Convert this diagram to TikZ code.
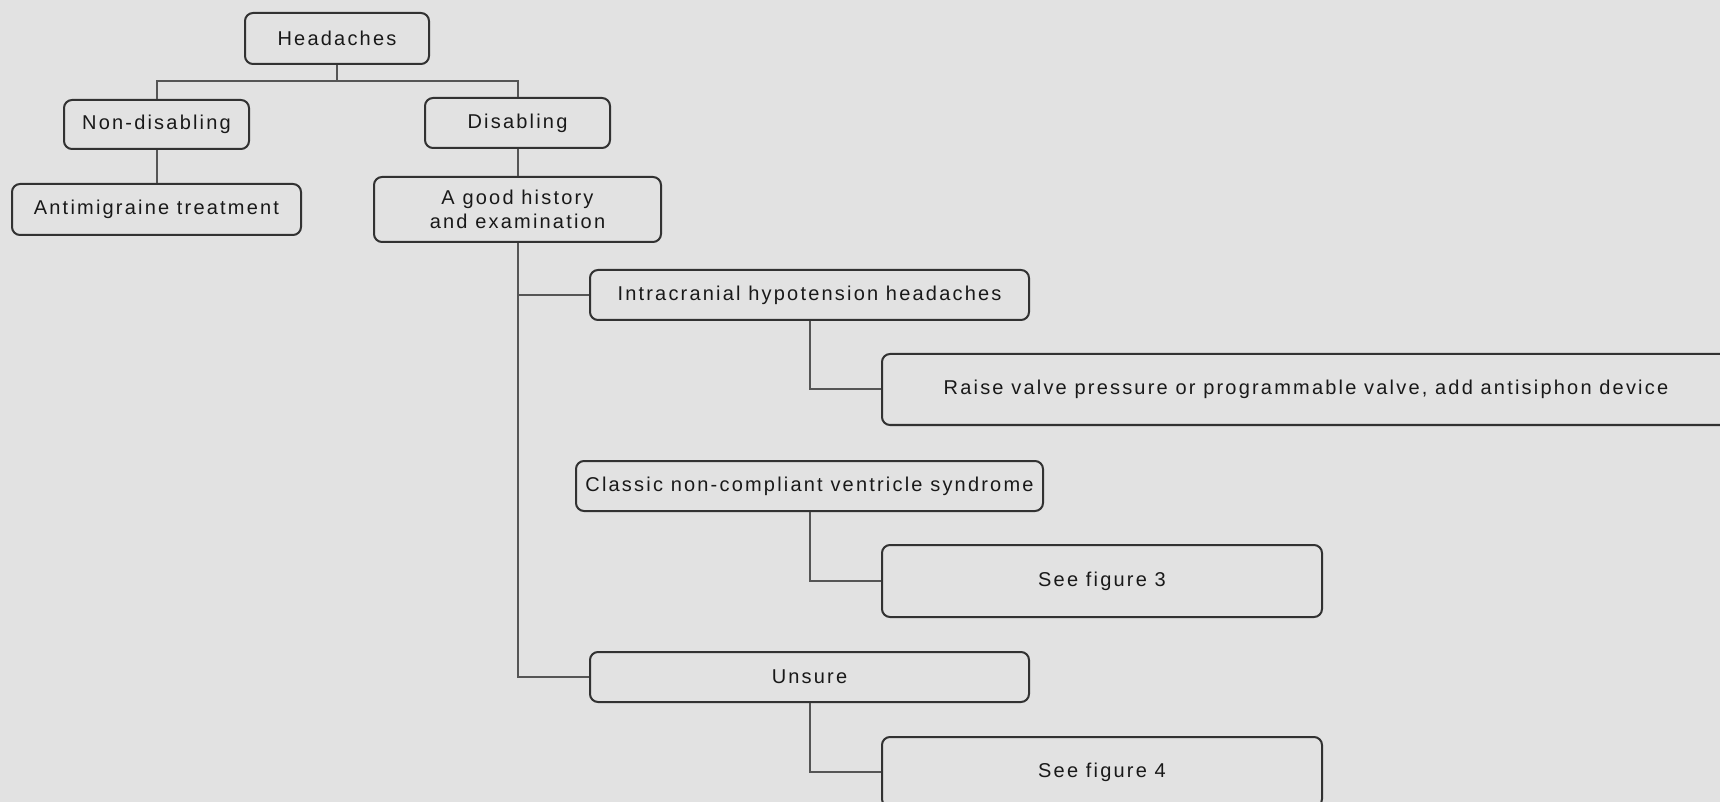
\documentclass[tikz,border=0pt]{standalone}
\usepackage{fontspec}
\setmainfont{Liberation Sans}[LetterSpace=11]
\definecolor{bgc}{RGB}{226,226,226}
\definecolor{boxc}{RGB}{50,50,50}
\definecolor{linec}{RGB}{85,85,85}
\begin{document}
\begin{tikzpicture}[x=0.5pt,y=-0.5pt,
  fbox/.style={draw=boxc,line width=1pt,rounded corners=4pt,fill=bgc,
    align=center,inner sep=0pt,font=\fontsize{10pt}{12pt}\selectfont,text=black!90},
  conn/.style={draw=linec,line width=1pt}]
\fill[bgc] (0,0) rectangle (1720,802);
\clip (0,0) rectangle (1720,802);
\useasboundingbox (0,0) rectangle (1720,802);
\node[fbox,minimum width=92pt,minimum height=25.5pt] (head) at (337,38.5) {Headaches};
\node[fbox,minimum width=92.5pt,minimum height=24.5pt] (nond) at (156.5,124.5) {Non-disabling};
\node[fbox,minimum width=92.5pt,minimum height=25pt] (dis) at (517.5,123) {Disabling};
\node[fbox,minimum width=144.5pt,minimum height=25.5pt] (anti) at (156.5,209.5) {Antimigraine treatment};
\node[fbox,minimum width=143.5pt,minimum height=32.5pt] (hist) at (517.5,209.5) {A good history\\and examination};
\node[fbox,minimum width=219.5pt,minimum height=25pt] (intra) at (809.5,295) {Intracranial hypotension headaches};
\node[fbox,minimum width=424pt,minimum height=35.5pt] (raise) at (1306,389.5) {Raise valve pressure or programmable valve, add antisiphon device};
\node[fbox,minimum width=233.5pt,minimum height=25pt] (classic) at (809.5,486) {Classic non-compliant ventricle syndrome};
\node[fbox,minimum width=220pt,minimum height=36pt] (fig3) at (1102,581) {See figure 3};
\node[fbox,minimum width=219.5pt,minimum height=25pt] (unsure) at (809.5,677) {Unsure};
\node[fbox,minimum width=220pt,minimum height=35pt] (fig4) at (1102,772) {See figure 4};
\coordinate (j) at (337,81);
\draw[conn] (head.south) -- (j);
\draw[conn] (nond.north) |- (j) -| (dis.north);
\draw[conn] (nond.south) -- (anti.north);
\draw[conn] (dis.south) -- (hist.north);
\draw[conn] (hist.south) |- (unsure.west);
\draw[conn] (hist.south |- intra.west) -- (intra.west);
\draw[conn] (intra.south) |- (raise.west);
\draw[conn] (classic.south) |- (fig3.west);
\draw[conn] (unsure.south) |- (fig4.west);
\end{tikzpicture}
\end{document}
